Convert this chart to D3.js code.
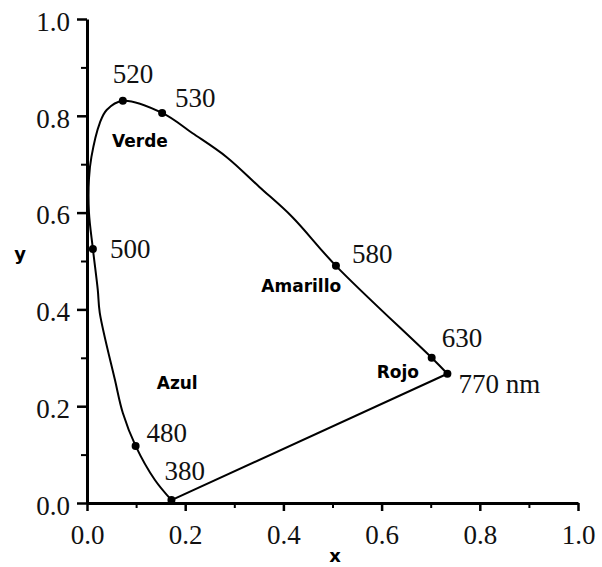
<!DOCTYPE html>
<html>
<head>
<meta charset="utf-8">
<script src="https://cdn.jsdelivr.net/npm/d3@7"></script>
<style>
  body { margin: 0; background: #fff; }
</style>
</head>
<body>
<div id="chart"></div>
<script>
// spectral locus (x, y chromaticity)
const LOCUS_X = [0.172, 0.138, 0.099, 0.073, 0.057, 0.026, 0.022, 0.012, 0.004, 0.004, 0.009, 0.026, 0.040, 0.073, 0.153, 0.215, 0.284, 0.351, 0.418, 0.507, 0.702, 0.734];
const LOCUS_Y = [0.006, 0.048, 0.118, 0.186, 0.254, 0.393, 0.440, 0.525, 0.600, 0.670, 0.715, 0.785, 0.812, 0.831, 0.806, 0.764, 0.715, 0.653, 0.591, 0.490, 0.300, 0.267];

// marked wavelengths
const WAVE = ["520", "530", "500", "580", "630", "770 nm", "480", "380"];
const WAVE_X = [0.073, 0.153, 0.012, 0.507, 0.702, 0.734, 0.099, 0.172];
const WAVE_Y = [0.831, 0.806, 0.525, 0.490, 0.300, 0.267, 0.118, 0.006];

// colour region names
const REGION = ["Verde", "Amarillo", "Azul", "Rojo"];
const REGION_X = [0.051, 0.355, 0.142, 0.590];
const REGION_Y = [0.736, 0.436, 0.236, 0.258];

const MAJOR_TICKS = [0, 0.2, 0.4, 0.6, 0.8, 1.0];
const MINOR_TICKS = [0.1, 0.3, 0.5, 0.7, 0.9];

var width = 602, height = 567;
var margin = { top: 19, right: 22, bottom: 64, left: 87 };

var svg = d3.select("#chart")
  .append("svg")
  .attr("width", width)
  .attr("height", height);

var x = d3.scaleLinear().domain([0, 1]).range([margin.left, width - margin.right - 2]);
var y = d3.scaleLinear().domain([0, 1]).range([height - margin.bottom, margin.top]);

var serif = "Liberation Serif, Times New Roman, serif";
var bold = "DejaVu Sans, Verdana, sans-serif";

// minor ticks first, then main axes on top
svg.append("g")
  .attr("transform", "translate(0," + y(0) + ")")
  .call(d3.axisBottom(x).tickValues(MINOR_TICKS).tickSize(5).tickSizeOuter(0).tickFormat(""))
  .call(g => g.select(".domain").remove())
  .selectAll("line").attr("stroke-width", 2);

svg.append("g")
  .attr("transform", "translate(" + x(0) + ",0)")
  .call(d3.axisLeft(y).tickValues(MINOR_TICKS).tickSize(6).tickSizeOuter(0).tickFormat(""))
  .call(g => g.select(".domain").remove())
  .selectAll("line").attr("stroke-width", 2);

var xAxis = svg.append("g")
  .attr("transform", "translate(0," + y(0) + ")")
  .call(d3.axisBottom(x).tickValues(MAJOR_TICKS).tickSize(8).tickSizeOuter(0).tickPadding(14).tickFormat(d3.format(".1f")));

var yAxis = svg.append("g")
  .attr("transform", "translate(" + x(0) + ",0)")
  .call(d3.axisLeft(y).tickValues(MAJOR_TICKS).tickSize(10).tickSizeOuter(0).tickPadding(7).tickFormat(d3.format(".1f")));

[xAxis, yAxis].forEach(function (ax) {
  ax.attr("font-family", serif).attr("font-size", 27);
  ax.select(".domain").attr("stroke-width", 3);
  ax.selectAll("line").attr("stroke-width", 2.5);
  ax.selectAll("text")
    .attr("font-family", serif)
    .attr("font-size", 27)
    .attr("fill", "#111");
});
yAxis.selectAll("text").attr("dy", "0.42em");

// axis titles
svg.append("text")
  .attr("x", 335).attr("y", 562)
  .attr("text-anchor", "middle")
  .attr("font-family", bold).attr("font-weight", "bold").attr("font-size", 18)
  .text("x");

svg.append("text")
  .attr("x", 20).attr("y", 260)
  .attr("text-anchor", "middle")
  .attr("font-family", bold).attr("font-weight", "bold").attr("font-size", 18)
  .text("y");

// the locus (smooth) and the purple line (straight)
var locus = LOCUS_X.map(function (d, i) { return [d, LOCUS_Y[i]]; });

var line = d3.line()
  .x(function (d) { return x(d[0]); })
  .y(function (d) { return y(d[1]); })
  .curve(d3.curveCatmullRom.alpha(0.5));

svg.append("path")
  .datum(locus)
  .attr("d", line)
  .attr("fill", "none")
  .attr("stroke", "#000")
  .attr("stroke-width", 2);

svg.append("line")
  .attr("x1", x(LOCUS_X[LOCUS_X.length - 1])).attr("y1", y(LOCUS_Y[LOCUS_Y.length - 1]))
  .attr("x2", x(LOCUS_X[0])).attr("y2", y(LOCUS_Y[0]))
  .attr("stroke", "#000")
  .attr("stroke-width", 2);

// dots on the wavelengths
svg.selectAll("circle.wave")
  .data(WAVE)
  .enter()
  .append("circle")
  .classed("wave", true)
  .attr("cx", function (d, i) { return x(WAVE_X[i]); })
  .attr("cy", function (d, i) { return y(WAVE_Y[i]); })
  .attr("r", 4)
  .attr("fill", "#000");

// label offsets in pixels from each dot
var off = {
  "520": [-10, -18], "530": [13, -6], "500": [17, 9], "580": [16, -3],
  "630": [10, -11], "770 nm": [11, 19], "480": [11, -4], "380": [-7, -20]
};

svg.selectAll("text.wave")
  .data(WAVE)
  .enter()
  .append("text")
  .classed("wave", true)
  .attr("x", function (d, i) { return x(WAVE_X[i]) + off[d][0]; })
  .attr("y", function (d, i) { return y(WAVE_Y[i]) + off[d][1]; })
  .attr("font-family", serif)
  .attr("font-size", 27)
  .attr("fill", "#111")
  .text(function (d) { return d; });

svg.selectAll("text.region")
  .data(REGION)
  .enter()
  .append("text")
  .classed("region", true)
  .attr("x", function (d, i) { return x(REGION_X[i]); })
  .attr("y", function (d, i) { return y(REGION_Y[i]); })
  .attr("font-family", bold)
  .attr("font-weight", "bold")
  .attr("font-size", 17)
  .text(function (d) { return d; });
</script>
</body>
</html>
